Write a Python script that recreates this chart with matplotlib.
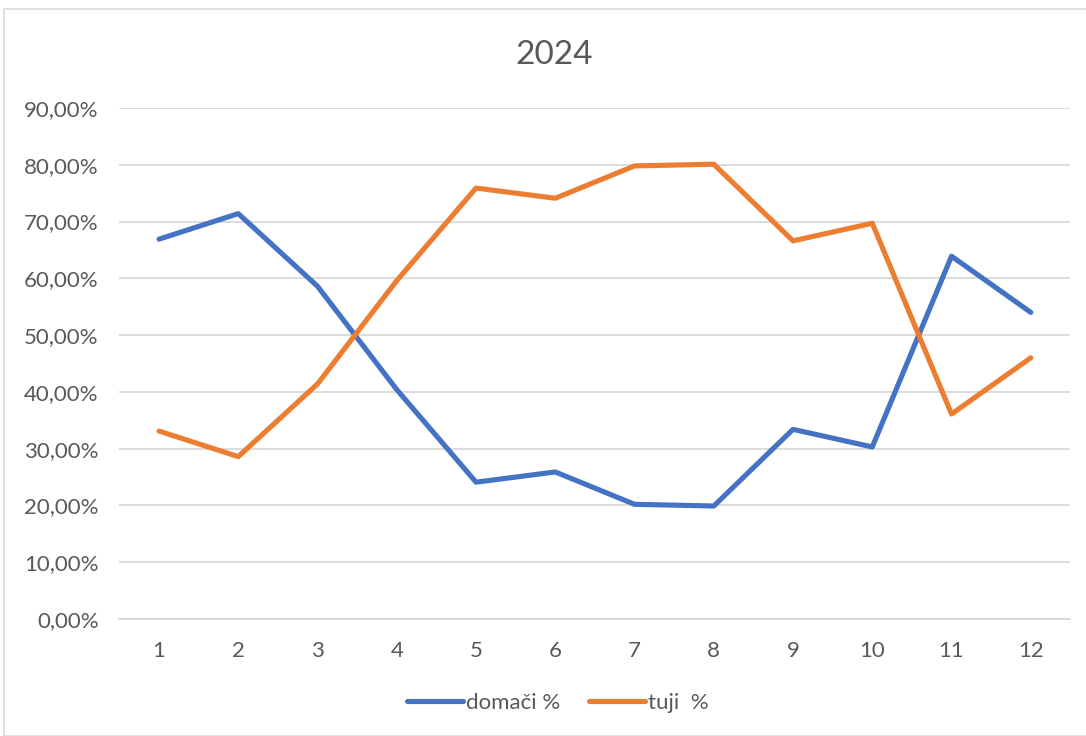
import matplotlib
matplotlib.use("Agg")
import matplotlib.pyplot as plt
from matplotlib.patches import Rectangle
from matplotlib.ticker import FuncFormatter

months = [1, 2, 3, 4, 5, 6, 7, 8, 9, 10, 11, 12]
domaci = [66.9, 71.4, 58.6, 40.4, 24.1, 25.9, 20.2, 19.9, 33.4, 30.3, 63.9, 54.0]
tuji = [33.1, 28.6, 41.4, 59.6, 75.9, 74.1, 79.8, 80.1, 66.6, 69.7, 36.1, 46.0]
yticks = [0, 10, 20, 30, 40, 50, 60, 70, 80, 90]

plt.rcParams['font.family'] = ['Lato', 'DejaVu Sans']

fig = plt.figure(figsize=(10.86, 7.36), dpi=100)
fig.patches.append(Rectangle((4/1086, 0), 1.5, (736-9)/736, transform=fig.transFigure,
                             fill=False, edgecolor='#D9D9D9', linewidth=1.2))
ax = fig.add_axes([119.4/1086, (736-619)/736, 951/1086, 511/736])

ax.plot(months, domaci, color='#4472C4', linewidth=3.7, solid_capstyle='round',
        solid_joinstyle='round', label='domači %', zorder=3)
ax.plot(months, tuji, color='#ED7D31', linewidth=3.7, solid_capstyle='round',
        solid_joinstyle='round', label='tuji  %', zorder=3)

ax.set_xlim(0.5, 12.5)
ax.set_ylim(0, 90)
ax.set_yticks(yticks)
ax.yaxis.set_major_formatter(FuncFormatter(lambda v, p: f"{v:.2f}".replace('.', ',') + '%'))
ax.set_xticks(months)
ax.grid(axis='y', color='#D9D9D9', linewidth=1.3)
ax.set_axisbelow(True)
for s in ['top', 'right', 'left']:
    ax.spines[s].set_visible(False)
ax.spines['bottom'].set_color('#D9D9D9')
ax.spines['bottom'].set_linewidth(1.3)
ax.tick_params(axis='both', length=0, labelsize=16, colors='#595959')
ax.tick_params(axis='x', pad=16)
ax.tick_params(axis='y', pad=15)

fig.text(554/1086, 1 - 55/736, '2024', ha='center', va='center', fontsize=24, color='#595959')

leg = fig.legend(loc='center', bbox_to_anchor=(558/1086, 1 - 703/736), ncol=2, frameon=False,
                 fontsize=16, handlelength=2.5, handletextpad=0.15, columnspacing=1.3)
for t in leg.get_texts():
    t.set_color('#595959')

fig.savefig('out.png', dpi=100)
